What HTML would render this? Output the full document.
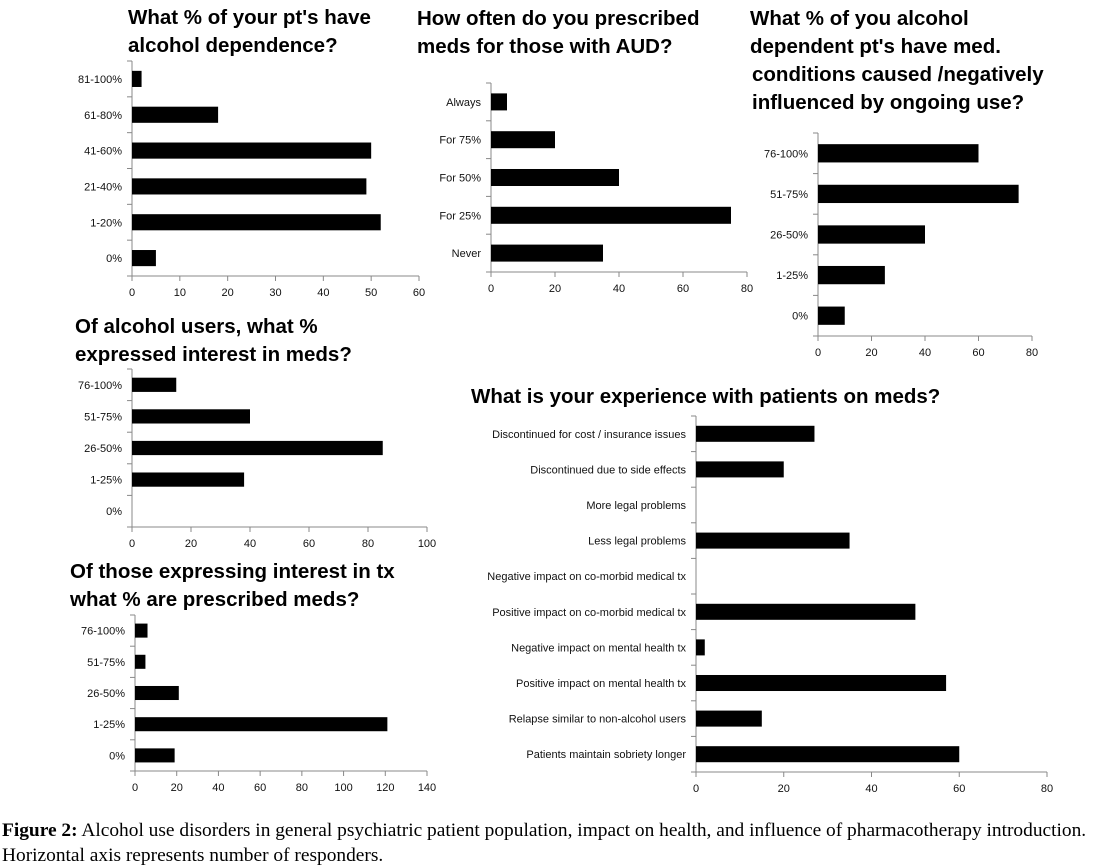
<!DOCTYPE html>
<html><head><meta charset="utf-8"><style>
body{margin:0;background:#fff;width:1103px;height:868px;overflow:hidden}
svg{display:block}
.t{font-family:"Liberation Sans",sans-serif;font-weight:bold;font-size:20.5px;fill:#000}
.l{font-family:"Liberation Sans",sans-serif;font-size:11px;fill:#111}
.cap{font-family:"Liberation Serif",serif;font-size:19.4px;fill:#000}
</style></head><body>
<svg id="fig" width="1103" height="868" xmlns="http://www.w3.org/2000/svg">
<text class="cap" x="2" y="836"><tspan font-weight="bold">Figure 2:</tspan> Alcohol use disorders in general psychiatric patient population, impact on health, and influence of pharmacotherapy introduction.</text>
<text class="cap" x="2" y="861">Horizontal axis represents number of responders.</text>
</svg>
<script>
const c1Cats=["81-100%","61-80%","41-60%","21-40%","1-20%","0%"];
const c1Vals=[2,18,50,49,52,5];
const c1Ticks=[0,10,20,30,40,50,60];
const c2Cats=["Always","For 75%","For 50%","For 25%","Never"];
const c2Vals=[5,20,40,75,35];
const c2Ticks=[0,20,40,60,80];
const c3Cats=["76-100%","51-75%","26-50%","1-25%","0%"];
const c3Vals=[60,75,40,25,10];
const c3Ticks=[0,20,40,60,80];
const c4Cats=["76-100%","51-75%","26-50%","1-25%","0%"];
const c4Vals=[15,40,85,38,0];
const c4Ticks=[0,20,40,60,80,100];
const c5Cats=["76-100%","51-75%","26-50%","1-25%","0%"];
const c5Vals=[6,5,21,121,19];
const c5Ticks=[0,20,40,60,80,100,120,140];
const c6Cats=["Discontinued for cost / insurance issues","Discontinued due to side effects","More legal problems","Less legal problems","Negative impact on co-morbid medical tx","Positive impact on co-morbid medical tx","Negative impact on mental health tx","Positive impact on mental health tx","Relapse similar to non-alcohol users","Patients maintain sobriety longer"];
const c6Vals=[27,20,0,35,0,50,2,57,15,60];
const c6Ticks=[0,20,40,60,80];

const NS="http://www.w3.org/2000/svg";
const svg=document.getElementById('fig');
function mk(tag,attrs,parent){const e=document.createElementNS(NS,tag);for(const k in attrs)e.setAttribute(k,attrs[k]);(parent||svg).appendChild(e);return e;}
function chart(id,cats,vals,ticks,x0,x1,top,bot,title,tx,ty){
  const g=mk('g',{});
  
  
  const max=ticks[ticks.length-1];
  const sx=v=>x0+(x1-x0)*v/max;
  const band=(bot-top)/cats.length;
  title.forEach((s,i)=>{const t=mk('text',{class:'t',x:tx[i]!==undefined?tx[i]:tx[0],y:ty+i*28},g);t.textContent=s;
    
    });
  mk('line',{x1:x0,y1:top,x2:x0,y2:bot,stroke:'#888','stroke-width':1},g);
  mk('line',{x1:x0,y1:bot,x2:x1,y2:bot,stroke:'#888','stroke-width':1},g);
  for(let i=0;i<=cats.length;i++)mk('line',{x1:x0-5,y1:top+i*band,x2:x0,y2:top+i*band,stroke:'#888'},g);
  ticks.forEach(v=>{mk('line',{x1:sx(v),y1:bot,x2:sx(v),y2:bot+5,stroke:'#888'},g);
    const t=mk('text',{class:'l',x:sx(v),y:bot+20,'text-anchor':'middle'},g);t.textContent=v;
    
    });
  cats.forEach((c,i)=>{const cy=top+(i+0.5)*band;
    const t=mk('text',{class:'l',x:x0-10,y:cy+4,'text-anchor':'end'},g);t.textContent=c;
    
    
    const h=band*0.45;
    const r=mk('rect',{x:x0,y:cy-h/2,width:Math.max(0,sx(vals[i])-x0),height:h,fill:'#000'},g);
    
    });
}
chart('chart-alcohol-dependence',c1Cats,c1Vals,c1Ticks,132,419,61,276,["What % of your pt's have","alcohol dependence?"],[128],24);
chart('chart-prescribe-frequency',c2Cats,c2Vals,c2Ticks,491,747,83,272,["How often do you prescribed","meds for those with AUD?"],[417],25);
chart('chart-medical-conditions',c3Cats,c3Vals,c3Ticks,818,1032,133,336,["What % of you alcohol","dependent pt's have med.","conditions caused /negatively","influenced by ongoing use?"],[750,750,752,752],25);
chart('chart-interest-in-meds',c4Cats,c4Vals,c4Ticks,132,427,369,527,["Of alcohol users, what %","expressed interest in meds?"],[75],333);
chart('chart-prescribed-meds',c5Cats,c5Vals,c5Ticks,135,427,615,771,["Of those expressing interest in tx","what % are prescribed meds?"],[70],578);
chart('chart-patient-experience',c6Cats,c6Vals,c6Ticks,696,1047,416,772,["What is your experience with patients on meds?"],[471],403);
</script>
</body></html>
